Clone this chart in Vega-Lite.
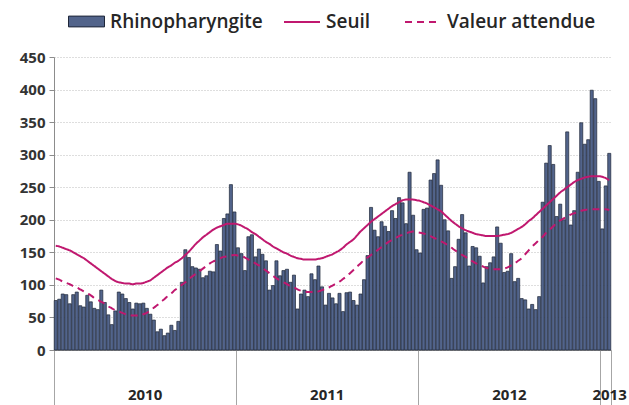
{
  "$schema": "https://vega.github.io/schema/vega-lite/v6.json",
  "width": 557,
  "height": 293,
  "autosize": {"type": "none"},
  "padding": {"left": 54, "top": 57, "right": 18, "bottom": 55},
  "background": "white",
  "config": {
    "view": {"stroke": null},
    "font": "Open Sans",
    "axisY": {
      "tickSize": 5, "labelPadding": 4, "labelFont": "Open Sans", "labelFontSize": 15,
      "labelFontWeight": "bold", "labelColor": "#333333",
      "domainColor": "#8c8c8c", "tickColor": "#8c8c8c",
      "gridColor": "#bdbdbd", "gridDash": [1, 2], "labelOverlap": false
    },
    "legend": {
      "orient": "none", "direction": "horizontal", "title": null,
      "labelFont": "Open Sans", "labelFontSize": 19, "labelFontWeight": 600,
      "labelColor": "#262626", "labelOffset": 5, "columnPadding": 30, "symbolSize": 1296
    }
  },
  "datasets": {
    "weeks": [
      {"i":0,"rhino":76,"seuil":160,"attendu":110},{"i":1,"rhino":78,"seuil":159,"attendu":108},{"i":2,"rhino":86,"seuil":157,"attendu":105},{"i":3,"rhino":85,"seuil":155,"attendu":103},{"i":4,"rhino":71,"seuil":153,"attendu":101},{"i":5,"rhino":85,"seuil":150,"attendu":98},{"i":6,"rhino":89,"seuil":147,"attendu":96},{"i":7,"rhino":68,"seuil":144,"attendu":93},{"i":8,"rhino":66,"seuil":141,"attendu":90},{"i":9,"rhino":84,"seuil":137,"attendu":87},
      {"i":10,"rhino":74,"seuil":133,"attendu":84},{"i":11,"rhino":64,"seuil":129,"attendu":80},{"i":12,"rhino":62,"seuil":125,"attendu":77},{"i":13,"rhino":92,"seuil":121,"attendu":74},{"i":14,"rhino":73,"seuil":117,"attendu":71},{"i":15,"rhino":54,"seuil":113,"attendu":67},{"i":16,"rhino":39,"seuil":109,"attendu":64},{"i":17,"rhino":60,"seuil":106,"attendu":61},{"i":18,"rhino":89,"seuil":104,"attendu":59},{"i":19,"rhino":86,"seuil":103,"attendu":57},
      {"i":20,"rhino":79,"seuil":102,"attendu":55},{"i":21,"rhino":73,"seuil":102,"attendu":54},{"i":22,"rhino":63,"seuil":101,"attendu":53},{"i":23,"rhino":72,"seuil":102,"attendu":53},{"i":24,"rhino":71,"seuil":102,"attendu":53},{"i":25,"rhino":72,"seuil":103,"attendu":55},{"i":26,"rhino":64,"seuil":105,"attendu":57},{"i":27,"rhino":55,"seuil":107,"attendu":61},{"i":28,"rhino":46,"seuil":111,"attendu":65},{"i":29,"rhino":28,"seuil":115,"attendu":69},
      {"i":30,"rhino":32,"seuil":119,"attendu":74},{"i":31,"rhino":22,"seuil":123,"attendu":78},{"i":32,"rhino":26,"seuil":127,"attendu":83},{"i":33,"rhino":38,"seuil":130,"attendu":87},{"i":34,"rhino":30,"seuil":134,"attendu":92},{"i":35,"rhino":44,"seuil":137,"attendu":96},{"i":36,"rhino":104,"seuil":141,"attendu":100},{"i":37,"rhino":154,"seuil":146,"attendu":104},{"i":38,"rhino":142,"seuil":151,"attendu":109},{"i":39,"rhino":128,"seuil":157,"attendu":113},
      {"i":40,"rhino":126,"seuil":163,"attendu":117},{"i":41,"rhino":124,"seuil":168,"attendu":121},{"i":42,"rhino":111,"seuil":173,"attendu":125},{"i":43,"rhino":114,"seuil":177,"attendu":129},{"i":44,"rhino":121,"seuil":181,"attendu":133},{"i":45,"rhino":120,"seuil":185,"attendu":136},{"i":46,"rhino":162,"seuil":188,"attendu":138},{"i":47,"rhino":152,"seuil":190,"attendu":141},{"i":48,"rhino":202,"seuil":192,"attendu":143},{"i":49,"rhino":209,"seuil":194,"attendu":144},
      {"i":50,"rhino":254,"seuil":194,"attendu":145},{"i":51,"rhino":212,"seuil":194,"attendu":146},{"i":52,"rhino":157,"seuil":193,"attendu":145},{"i":53,"rhino":148,"seuil":191,"attendu":144},{"i":54,"rhino":122,"seuil":188,"attendu":142},{"i":55,"rhino":174,"seuil":185,"attendu":139},{"i":56,"rhino":177,"seuil":181,"attendu":136},{"i":57,"rhino":143,"seuil":178,"attendu":133},{"i":58,"rhino":155,"seuil":174,"attendu":130},{"i":59,"rhino":147,"seuil":170,"attendu":126},
      {"i":60,"rhino":137,"seuil":166,"attendu":122},{"i":61,"rhino":92,"seuil":163,"attendu":118},{"i":62,"rhino":99,"seuil":159,"attendu":114},{"i":63,"rhino":137,"seuil":156,"attendu":110},{"i":64,"rhino":114,"seuil":153,"attendu":107},{"i":65,"rhino":122,"seuil":150,"attendu":104},{"i":66,"rhino":124,"seuil":148,"attendu":101},{"i":67,"rhino":104,"seuil":145,"attendu":98},{"i":68,"rhino":115,"seuil":143,"attendu":96},{"i":69,"rhino":63,"seuil":141,"attendu":93},
      {"i":70,"rhino":86,"seuil":140,"attendu":91},{"i":71,"rhino":92,"seuil":139,"attendu":90},{"i":72,"rhino":82,"seuil":139,"attendu":89},{"i":73,"rhino":117,"seuil":139,"attendu":89},{"i":74,"rhino":108,"seuil":139,"attendu":89},{"i":75,"rhino":129,"seuil":140,"attendu":90},{"i":76,"rhino":97,"seuil":141,"attendu":92},{"i":77,"rhino":69,"seuil":143,"attendu":94},{"i":78,"rhino":87,"seuil":145,"attendu":96},{"i":79,"rhino":80,"seuil":147,"attendu":99},
      {"i":80,"rhino":71,"seuil":150,"attendu":102},{"i":81,"rhino":87,"seuil":153,"attendu":105},{"i":82,"rhino":59,"seuil":157,"attendu":109},{"i":83,"rhino":88,"seuil":162,"attendu":113},{"i":84,"rhino":89,"seuil":166,"attendu":118},{"i":85,"rhino":76,"seuil":170,"attendu":123},{"i":86,"rhino":69,"seuil":176,"attendu":128},{"i":87,"rhino":86,"seuil":182,"attendu":133},{"i":88,"rhino":108,"seuil":187,"attendu":138},{"i":89,"rhino":145,"seuil":192,"attendu":142},
      {"i":90,"rhino":219,"seuil":197,"attendu":146},{"i":91,"rhino":184,"seuil":201,"attendu":150},{"i":92,"rhino":174,"seuil":205,"attendu":154},{"i":93,"rhino":197,"seuil":209,"attendu":158},{"i":94,"rhino":190,"seuil":213,"attendu":162},{"i":95,"rhino":182,"seuil":217,"attendu":166},{"i":96,"rhino":214,"seuil":221,"attendu":169},{"i":97,"rhino":202,"seuil":224,"attendu":172},{"i":98,"rhino":234,"seuil":227,"attendu":175},{"i":99,"rhino":226,"seuil":230,"attendu":177},
      {"i":100,"rhino":194,"seuil":231,"attendu":179},{"i":101,"rhino":273,"seuil":231,"attendu":181},{"i":102,"rhino":207,"seuil":231,"attendu":182},{"i":103,"rhino":154,"seuil":230,"attendu":181},{"i":104,"rhino":149,"seuil":229,"attendu":180},{"i":105,"rhino":216,"seuil":227,"attendu":179},{"i":106,"rhino":218,"seuil":225,"attendu":177},{"i":107,"rhino":261,"seuil":222,"attendu":175},{"i":108,"rhino":271,"seuil":219,"attendu":172},{"i":109,"rhino":292,"seuil":216,"attendu":170},
      {"i":110,"rhino":253,"seuil":213,"attendu":167},{"i":111,"rhino":200,"seuil":208,"attendu":164},{"i":112,"rhino":183,"seuil":203,"attendu":161},{"i":113,"rhino":110,"seuil":198,"attendu":157},{"i":114,"rhino":128,"seuil":194,"attendu":153},{"i":115,"rhino":170,"seuil":190,"attendu":150},{"i":116,"rhino":208,"seuil":187,"attendu":146},{"i":117,"rhino":180,"seuil":184,"attendu":143},{"i":118,"rhino":129,"seuil":182,"attendu":139},{"i":119,"rhino":159,"seuil":180,"attendu":136},
      {"i":120,"rhino":157,"seuil":178,"attendu":133},{"i":121,"rhino":144,"seuil":177,"attendu":131},{"i":122,"rhino":103,"seuil":176,"attendu":128},{"i":123,"rhino":128,"seuil":175,"attendu":126},{"i":124,"rhino":134,"seuil":175,"attendu":125},{"i":125,"rhino":143,"seuil":175,"attendu":124},{"i":126,"rhino":189,"seuil":175,"attendu":124},{"i":127,"rhino":164,"seuil":176,"attendu":124},{"i":128,"rhino":119,"seuil":177,"attendu":125},{"i":129,"rhino":121,"seuil":178,"attendu":127},
      {"i":130,"rhino":148,"seuil":180,"attendu":130},{"i":131,"rhino":105,"seuil":183,"attendu":133},{"i":132,"rhino":110,"seuil":186,"attendu":137},{"i":133,"rhino":79,"seuil":189,"attendu":141},{"i":134,"rhino":77,"seuil":193,"attendu":147},{"i":135,"rhino":63,"seuil":198,"attendu":153},{"i":136,"rhino":70,"seuil":202,"attendu":159},{"i":137,"rhino":62,"seuil":207,"attendu":164},{"i":138,"rhino":82,"seuil":212,"attendu":169},{"i":139,"rhino":227,"seuil":217,"attendu":174},
      {"i":140,"rhino":287,"seuil":222,"attendu":180},{"i":141,"rhino":314,"seuil":227,"attendu":185},{"i":142,"rhino":285,"seuil":232,"attendu":190},{"i":143,"rhino":205,"seuil":237,"attendu":195},{"i":144,"rhino":224,"seuil":242,"attendu":199},{"i":145,"rhino":200,"seuil":246,"attendu":202},{"i":146,"rhino":335,"seuil":250,"attendu":205},{"i":147,"rhino":192,"seuil":254,"attendu":208},{"i":148,"rhino":214,"seuil":258,"attendu":210},{"i":149,"rhino":273,"seuil":261,"attendu":212},
      {"i":150,"rhino":349,"seuil":263,"attendu":214},{"i":151,"rhino":316,"seuil":265,"attendu":215},{"i":152,"rhino":323,"seuil":266,"attendu":216},{"i":153,"rhino":399,"seuil":267,"attendu":216},{"i":154,"rhino":386,"seuil":267,"attendu":216},{"i":155,"rhino":259,"seuil":267,"attendu":216},{"i":156,"rhino":186,"seuil":266,"attendu":216},{"i":157,"rhino":252,"seuil":264,"attendu":216},{"i":158,"rhino":302,"seuil":261,"attendu":215}
    ],
    "years": [
      {"year": "2010", "mid": 26},
      {"year": "2011", "mid": 78},
      {"year": "2012", "mid": 130},
      {"year": "2013", "mid": 158.6}
    ]
  },
  "layer": [
    {
      "data": {"name": "weeks"},
      "encoding": {
        "x": {"field": "i", "type": "ordinal", "scale": {"paddingInner": 0.12, "paddingOuter": 0.06}, "axis": null}
      },
      "layer": [
        {
          "mark": {"type": "bar", "stroke": "#1e2638", "strokeWidth": 0.7},
          "encoding": {
            "y": {
              "field": "rhino", "type": "quantitative",
              "scale": {"domain": [0, 450], "nice": false},
              "axis": {"title": null, "values": [0, 50, 100, 150, 200, 250, 300, 350, 400, 450]}
            },
            "fill": {
              "datum": "Rhinopharyngite", "type": "nominal",
              "scale": {"domain": ["Rhinopharyngite"], "range": ["#52648b"]},
              "legend": {
                "legendX": 14, "legendY": -54,
                "symbolType": "M-1,-0.3H1V0.3H-1Z",
                "symbolStrokeColor": "#1e2638", "symbolStrokeWidth": 1
              }
            }
          }
        },
        {
          "mark": {"type": "line", "strokeWidth": 2, "color": "#c0186f", "interpolate": "monotone"},
          "encoding": {
            "y": {"field": "seuil", "type": "quantitative", "axis": {"title": null, "values": [0, 50, 100, 150, 200, 250, 300, 350, 400, 450]}},
            "strokeDash": {
              "datum": "Seuil", "type": "nominal",
              "scale": {"domain": ["Seuil", "Valeur attendue"], "range": [[1, 0], [7, 5]]},
              "legend": {
                "legendX": 229, "legendY": -54,
                "symbolType": "stroke", "symbolStrokeColor": "#c0186f", "symbolStrokeWidth": 2
              }
            }
          }
        },
        {
          "mark": {"type": "line", "strokeWidth": 2, "color": "#c0186f", "interpolate": "monotone"},
          "encoding": {
            "y": {"field": "attendu", "type": "quantitative", "axis": {"title": null, "values": [0, 50, 100, 150, 200, 250, 300, 350, 400, 450]}},
            "strokeDash": {"datum": "Valeur attendue", "type": "nominal"}
          }
        }
      ]
    },
    {
      "data": {"name": "years"},
      "mark": {"type": "text", "dy": 45, "fontSize": 15, "fontWeight": "bold", "color": "#262626", "font": "Open Sans"},
      "encoding": {
        "x": {
          "field": "mid", "type": "quantitative",
          "scale": {"domain": [0, 159], "nice": false, "zero": false},
          "axis": {
            "orient": "bottom", "values": [0, 52, 104, 156, 159], "tickSize": 55, "labels": false,
            "grid": false, "domainColor": "#8c8c8c", "tickColor": "#a6a6a6", "title": null
          }
        },
        "y": {"datum": 0, "type": "quantitative", "axis": {"title": null, "values": [0, 50, 100, 150, 200, 250, 300, 350, 400, 450]}},
        "text": {"field": "year"}
      }
    }
  ],
  "resolve": {"scale": {"x": "independent"}}
}
